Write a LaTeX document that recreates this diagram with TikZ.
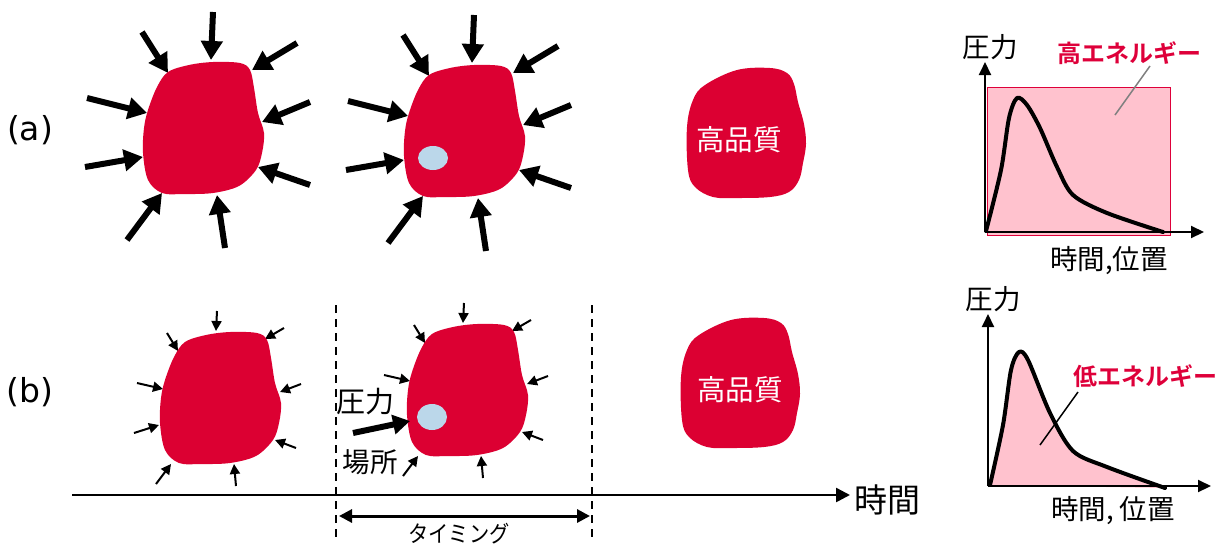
\documentclass[tikz,border=0pt]{standalone}
\usepackage{fontspec}
\setmainfont{DejaVu Sans}
\newfontfamily\jp{Noto Sans CJK JP}
\newfontfamily\jpb{Noto Sans CJK JP Bold}
\newfontfamily\jpn[FakeStretch=0.88]{Noto Sans CJK JP}
\usetikzlibrary{arrows.meta}
\definecolor{blobred}{RGB}{220,0,50}
\definecolor{lblue}{RGB}{187,215,234}
\definecolor{lpink}{RGB}{255,194,206}
\definecolor{labred}{RGB}{222,0,58}
\tikzset{
  blobA/.pic={\fill[blobred] plot[smooth cycle, tension=0.55] coordinates {
    (-47,-41) (-36,-56) (-15,-63) (9,-66) (36,-65) (46,-58) (50,-40) (54,-15) (60,5)
    (58,25) (52,42) (35,58) (9,65) (-20,66) (-42,65) (-56,52) (-61,25) (-60,0) (-56,-18)};},
  blobC/.pic={\fill[blobred] plot[smooth cycle, tension=0.6] coordinates {
    (-54,-34) (-42,-49) (-10,-64) (23,-66) (40,-61) (47,-50) (51,-32) (57,-10) (59,10)
    (56,29) (52,46) (42,58) (23,63) (-10,64) (-34,63) (-52,53) (-59,36) (-60,-7)};},
  bigarr/.style={line width=6pt, -{Triangle[length=19pt,width=21pt]}},
  smallarr/.style={line width=2pt, -{Triangle[length=10pt,width=10pt]}},
  axisarr/.style={line width=2pt, -{Triangle[length=13pt,width=12pt]}},
  bigarrows/.pic={
    \draw[bigarr] (-62,-96) -- (-36,-55);
    \draw[bigarr] (9,-116) -- (7,-68);
    \draw[bigarr] (93,-85) -- (48,-58);
    \draw[bigarr] (106,-26) -- (58,-6);
    \draw[bigarr] (106,57) -- (54,39);
    \draw[bigarr] (21,120) -- (13,67);
    \draw[bigarr] (-77,112) -- (-42,65);
    \draw[bigarr] (-119,39) -- (-61,29);
    \draw[bigarr] (-117,-30) -- (-57,-15);},
  smallarrows/.pic={
    \draw[smallarr] (-54,-65) -- (-43,-47);
    \draw[smallarr] (-4,-87) -- (-5,-67);
    \draw[smallarr] (63,-70) -- (44,-59);
    \draw[smallarr] (80,-14) -- (59,-6);
    \draw[smallarr] (75,50) -- (54,42);
    \draw[smallarr] (15,88) -- (13,66);
    \draw[smallarr] (-65,86) -- (-50,66);
    \draw[smallarr] (-84,-15) -- (-58,-9);},
  jtext/.style={font=\jp\fontsize{27.5}{30}\selectfont, inner sep=0pt},
  redlab/.style={font=\jpb\fontsize{24}{28}\selectfont, text=labred, inner sep=0pt}
}
\begin{document}
\begin{tikzpicture}[x=1pt,y=-1pt]
\useasboundingbox (0,0) rectangle (1223,547);
% row labels
\node[font=\fontsize{33}{38}\selectfont, inner sep=0pt] (la) at (30,130) {(a)};
\node[font=\fontsize{33}{38}\selectfont, inner sep=0pt] (lb) at (30,392) {(b)};
% row (a)
\pic at (204,128) {bigarrows};
\pic at (204,128) {blobA};
\pic at (465,131) {bigarrows};
\pic at (465,131) {blobA};
\fill[lblue] (433,158) ellipse [x radius=15, y radius=12];
\pic at (747,134) {blobC};
\node[font=\jp\fontsize{28.5}{32}\selectfont, text=white, inner sep=0pt] (hq1) at (739,140) {高品質};
% row (b)
\pic at (221,398) {smallarrows};
\draw[smallarr] (-87+221,35+398) -- (-62+221,27+398);
\pic at (221,398) {blobA};
\pic at (468,390) {smallarrows};
\pic at (468,390) {blobA};
\fill[lblue] (432,417) ellipse [x radius=15, y radius=13];
\coordinate (pin) at (353,433);
\coordinate (ptip) at (410,421);
\draw[line width=6pt, -{Triangle[length=17pt,width=19pt]}] (pin) -- (ptip);
\node[font=\jp\fontsize{29}{32}\selectfont, inner sep=0pt] (pr) at (365,402) {圧力};
\node[font=\jp\fontsize{27.5}{30}\selectfont, inner sep=0pt] (bs) at (370,462) {場所};
\pic at (741,384) {blobC};
\node[font=\jp\fontsize{28.5}{32}\selectfont, text=white, inner sep=0pt] (hq2) at (740,390) {高品質};
% time axis
\coordinate (t0) at (72,495);
\coordinate (t1) at (850,495);
\draw[line width=2.5pt, -{Triangle[length=14pt,width=14pt]}] (t0) -- (t1);
\node[font=\jp\fontsize{33}{36}\selectfont, inner sep=0pt, anchor=west] (jikan) at (854,500) {時間};
% dashed
\coordinate (d1a) at (336,305); \coordinate (d1b) at (336,540);
\coordinate (d2a) at (592,305); \coordinate (d2b) at (592,540);
\draw[line width=1.5pt, dash pattern=on 8pt off 6pt] (d1a) -- (d1b);
\draw[line width=1.5pt, dash pattern=on 8pt off 6pt] (d2a) -- (d2b);
\coordinate (tm0) at (339,516); \coordinate (tm1) at (590,516);
\draw[line width=3pt, {Triangle[length=13pt,width=13pt]}-{Triangle[length=13pt,width=13pt]}] (tm0) -- (tm1);
\node[font=\jpn\fontsize{23}{26}\selectfont, inner sep=0pt] (timing) at (459,534) {タイミング};
% graph (a)
\fill[lpink, draw=labred, line width=0.8pt] (987,87) rectangle (1170,235);
\coordinate (ga0) at (985,232);
\coordinate (gay) at (985,62);
\coordinate (gax) at (1204,232);
\draw[axisarr] (ga0) -- (gay);
\draw[axisarr] (ga0) -- (gax);
\draw[line width=4pt, line join=round, line cap=round] plot[smooth, tension=0.5] coordinates {
 (986,231) (1001,170) (1009,118) (1017,98) (1027,105) (1040,128) (1057,167) (1073,195) (1107,213) (1163,232)};
\node[jtext] (pa) at (990,47) {圧力};
\node[redlab] (hiE) at (1129,53) {高エネルギー};
\coordinate (hiEp) at (1115,115);
\draw[gray, line width=1.5pt] (1150,66) -- (hiEp);
\node[jtext] (xa) at (1109,261) {時間,位置};
% graph (b)
\fill[lpink] plot[smooth, tension=0.5] coordinates {
 (990,485) (1003,425) (1011,370) (1019,352) (1028,360) (1050,413) (1073,451) (1107,467) (1165,488)} -- (990,485) -- cycle;
\coordinate (gb0) at (988,486);
\coordinate (gby) at (988,314);
\coordinate (gbx) at (1211,486);
\draw[axisarr] (gb0) -- (gby);
\draw[axisarr] (gb0) -- (gbx);
\draw[line width=4pt, line join=round, line cap=round] plot[smooth, tension=0.5] coordinates {
 (990,485) (1003,425) (1011,370) (1019,352) (1028,360) (1050,413) (1073,451) (1107,467) (1165,488)};
\node[jtext] (pb) at (993,299) {圧力};
\node[redlab] (loE) at (1145,376) {低エネルギー};
\coordinate (loEp) at (1040,445);
\draw[line width=1.5pt] (1078,392) -- (loEp);
\node[jtext] (xb) at (1113,511) {時間, 位置};
\end{tikzpicture}
\end{document}
